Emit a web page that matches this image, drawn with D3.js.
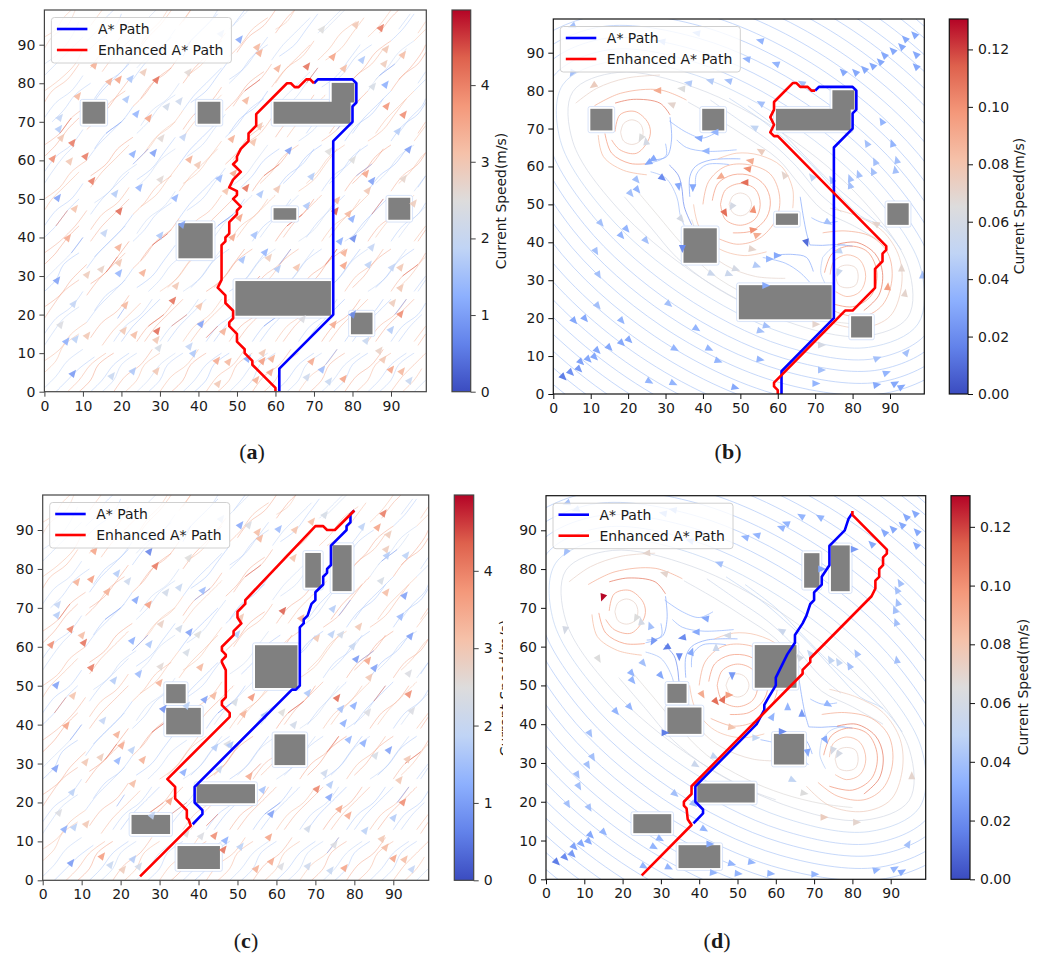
<!DOCTYPE html>
<html>
<head>
<meta charset="utf-8">
<script src="https://cdn.jsdelivr.net/npm/d3@7"></script>
<style>
  body { margin: 0; background: #fff; }
  text { font-family: "DejaVu Sans", sans-serif; fill: #1a1a1a; }
</style>
</head>
<body>
<script>
// tick labels
var axisTicks = [0, 10, 20, 30, 40, 50, 60, 70, 80, 90];
var flowBarTicks = [0, 1, 2, 3, 4];
var eddyBarTicks = [0, 0.02, 0.04, 0.06, 0.08, 0.10, 0.12];
var flowBarMax = 4.98;
var eddyBarMax = 0.1306;

// obstacles as x0, y0, x1, y1
var obstaclesTop = [[9.9, 69.5, 15.8, 75.2], [39.8, 69.5, 45.7, 75.2], [59.5, 69.5, 79.5, 75.2], [74.6, 75, 80.5, 80.1],
  [59.5, 44.6, 65.4, 47.6], [34.8, 34.6, 43.7, 43.7], [49.6, 19.7, 74.4, 28.7], [79.6, 14.9, 85.2, 20.5], [89.3, 44.6, 95, 50.3]];
var obstaclesBottom = [[67.4, 75.2, 71.4, 84.1], [74.4, 74.3, 79.3, 86.1], [54.5, 49.4, 65.4, 60.4], [31.7, 45.5, 36.7, 50.4],
  [31.7, 37.5, 40.6, 44.3], [59.5, 29.6, 67.4, 37.5], [39.5, 19.8, 54.5, 24.7], [22.8, 11.9, 32.7, 16.8], [34.6, 2.9, 45.5, 8.8]];

// planned paths
var blueTop = [[61,0],[61,6],[75,20],[75,65],[80,70],[80,74],[81,75],[81,80],[80,81],[71,81],[70,80]];
var redA = [[60,0],[60,1],[54,7],[54,8],[52,10],[52,11],[50,13],[50,15],[48,17],[48,18],[49,19],[49,21],[47,23],[47,25],[45,27],[46,29],[46,38],[47,39],[47,40],[48,41],[48,44],[50,46],[50,47],[51,48],[49,50],[50,51],[50,52],[48,53],[49,55],[51,57],[49,59],[50,60],[50,61],[51,63],[53,65],[53,67],[55,69],[55,72],[63,80],[64,80],[65,79],[66,79],[68,81],[69,81],[70,80]];
var redB = [[60,0],[60,1],[59,2],[59,3],[61,5],[78,22],[80,22],[86,28],[86,33],[88,35],[88,37],[89,38],[89,39],[60,68],[59,68],[58,69],[59,71],[58,73],[59,75],[59,77],[64,82],[65,82],[66,81],[68,81],[69,80],[70,80]];
var blueC = [[38.5,14.4],[41,17],[41,18],[39,20],[39,24],[64,49],[65,49],[66,50],[66,65],[67,66],[67,67],[68,68],[69,71],[70,72],[70,74],[72,76],[72,78],[73,79],[73,80],[74,81],[74,86],[78,90],[78,91],[79,92],[79,94],[80,95]];
var redC = [[25,1],[38,14],[37.5,15.5],[37,16],[37,18],[34,21],[34,24],[32,26],[48,42],[48,43],[46,45],[46,46],[47,47],[47,54],[46,56],[46,56.5],[47,57.5],[47,58],[46,59],[46,60],[49,63],[49,64],[51,66],[50,67.5],[50,69],[52,71],[52,72],[70,91],[72,91],[73,90],[75,90],[80,95]];
var blueD = [[38.5,14.4],[41,17],[41,18],[39,20],[39,24],[55,40],[57,43.7],[57,45],[58,46.7],[60,50],[60,52],[61,54],[62,56],[63,58],[65,61],[65,63],[67,66],[68,68],[69,71],[70,72],[70,74],[72,76],[72,78],[74,81],[74,86],[78,90],[79,93],[80,94.5]];
var redD = [[25,1],[38,14],[37,15.5],[36.7,18.3],[36,19],[36,20],[38,22],[38,24],[67,53],[67,54],[69,56],[69,57],[85,73],[86,75],[86,77],[87,78],[87,80],[88,81],[88,83],[89,84],[89,85],[80,94],[80,95]];

// streamlines of the uniform current: speed, then x,y pairs
var flowLines = [
  [3.2,0,92,3,94,5,97,7,99],[1.9,0,85,4,88,7,92,9,96],[3.3,0,78,4,81,8,85,10,89],[1.7,11,91,14,94,16,97,18,99],
  [1.8,0,71,3,75,7,78,10,82],[3.4,12,84,15,88,19,91,22,96],[3.5,0,64,4,67,7,71,11,74],[1.6,13,76,16,80,20,83,23,87],[3.2,25,90,27,93,30,96,32,99],
  [1.7,0,57,3,61,7,64,10,68],[3.6,12,70,16,73,19,77,22,81],[2.0,24,84,27,87,31,90,34,94],[3.3,36,96,38,99],
  [3.4,0,50,4,53,7,57,11,60],[1.5,13,63,16,67,20,70,23,74],[3.5,25,76,28,80,32,83,35,87],[1.8,37,90,40,93,43,96,45,99],
  [1.6,0,43,3,47,7,50,10,54],[3.7,12,56,16,59,19,63,23,66],[1.9,25,69,28,73,32,76,35,80],[3.3,37,82,41,85,44,89,47,93],[1.6,49,95,52,99],
  [3.5,0,36,4,39,8,43,11,47],[1.8,13,49,17,52,20,56,24,59],[3.2,26,62,29,66,33,69,36,73],[1.5,38,75,42,78,45,82,48,86],[3.6,50,88,53,92,57,95,60,99],
  [1.9,0,29,3,32,7,36,10,40],[3.4,12,42,15,46,19,49,22,53],[1.6,24,55,28,58,31,62,34,66],[3.6,36,68,39,72,43,75,46,79],[1.7,48,81,52,84,55,88,58,92],[3.1,60,94,63,96,65,99],
  [3.6,0,22,4,25,7,29,11,33],[1.5,13,35,16,38,20,42,23,46],[3.3,25,48,29,51,32,55,35,59],[1.8,37,61,41,64,44,68,47,72],[3.5,49,74,52,78,56,81,59,85],[1.6,61,87,65,90,68,94,71,98],
  [1.7,0,15,3,19,7,22,10,26],[3.8,12,28,16,31,19,35,22,39],[1.9,24,41,27,45,31,48,34,52],[3.2,36,54,40,57,43,61,46,65],[1.4,48,67,51,71,55,74,58,78],[3.4,60,80,63,84,67,87,70,91],[2,72,93,75,96,78,99],
  [3.3,0,8,4,11,7,15,11,18],[1.6,13,21,16,25,20,28,23,32],[3.7,25,34,28,38,32,41,35,45],[1.7,37,47,41,50,44,54,47,58],[3.4,49,60,52,64,56,67,59,71],[1.9,61,73,65,76,68,80,71,84],[3.3,73,86,77,89,80,93,83,97],
  [1.8,0,1,3,4,6,8,10,11],[3.5,12,14,15,18,19,21,22,25],[1.5,24,27,28,30,31,34,34,38],[3.4,36,40,39,44,43,47,46,51],[2,48,53,52,56,55,60,58,64],[3.6,60,66,63,70,67,73,70,77],[1.7,72,79,76,82,79,86,82,90],[3.2,84,92,87,95,90,99],
  [3.4,6,0,9,3,12,7,16,10],[1.7,18,13,21,17,25,20,28,24],[3.2,30,26,34,29,37,33,40,37],[1.4,42,39,45,43,49,46,52,50],[3.7,54,52,57,56,61,59,64,63],[1.8,66,65,70,68,73,72,76,76],[3.4,78,78,81,82,85,85,88,89],[1.6,90,91,93,94,96,98],
  [1.6,12,0,15,3,18,7,22,10],[3.6,24,13,27,17,31,20,34,24],[1.9,36,26,40,29,43,33,46,37],[3.3,48,39,51,43,55,46,58,50],[1.5,60,52,63,56,67,59,70,63],[3.5,72,65,76,68,79,72,82,76],[2,84,78,87,82,91,85,94,89],[3.1,96,91,99,94],
  [3.5,18,0,21,4,25,7,28,11],[1.8,30,13,33,17,37,20,40,24],[3.7,42,26,46,29,49,33,52,37],[1.6,54,39,57,43,61,46,64,50],[3.3,66,52,70,55,73,59,76,63],[1.5,78,65,81,69,85,72,88,76],[3.6,90,78,93,82,97,85,99,88],
  [1.9,24,0,27,3,30,7,34,10],[3.2,36,13,39,17,43,20,46,24],[1.5,48,26,52,29,55,33,58,37],[3.8,60,39,63,43,67,46,70,50],[1.7,72,52,75,56,79,59,82,63],[3.4,84,65,88,68,91,72,94,76],[1.8,96,78,99,81],
  [3.3,30,0,33,4,37,7,40,11],[1.6,42,13,45,17,49,20,52,24],[3.5,54,26,57,30,61,33,64,37],[2,66,39,70,42,73,46,76,50],[3.6,78,52,81,56,85,59,88,63],[1.5,90,65,93,69,97,72,99,75],
  [1.7,36,0,39,3,42,7,46,10],[3.6,48,13,51,17,55,20,58,24],[1.8,60,26,64,29,67,33,70,37],[3.3,72,39,75,43,79,46,82,50],[1.4,84,52,87,56,91,59,94,63],[3.2,96,65,99,69],
  [3.4,42,0,45,4,49,7,52,11],[1.5,54,13,57,17,61,20,64,24],[3.7,66,26,69,30,73,33,76,37],[1.7,78,39,82,42,85,46,88,50],[3.5,90,52,93,56,97,59,99,62],
  [1.8,48,0,51,3,54,7,58,10],[3.3,60,13,63,17,67,20,70,24],[1.4,72,26,76,29,79,33,82,37],[3.6,84,39,87,43,91,46,94,50],[1.9,96,52,99,56],
  [3.5,54,0,57,4,61,7,64,11],[1.7,66,13,69,17,73,20,76,24],[3.4,78,26,81,30,85,33,88,37],[1.6,90,39,93,43,97,46,99,49],
  [1.6,60,0,63,3,66,7,70,10],[3.7,72,13,75,17,79,20,82,24],[1.8,84,26,88,29,91,33,94,37],[3.3,96,39,99,43],
  [3.2,66,0,69,4,73,7,76,11],[1.5,78,13,81,17,85,20,88,24],[3.5,90,26,93,30,97,33,99,36],
  [1.8,72,0,75,3,78,7,82,10],[3.4,84,13,87,17,91,20,94,24],[1.7,96,26,99,30],
  [3.6,78,0,81,4,85,7,88,11],[1.6,90,13,93,17,97,20,99,23],[1.7,84,0,87,3,90,7,94,10],[3.3,96,13,99,17],[3.4,90,0,93,4,96,7,99,10],[1.9,96,0,99,3],
  // lines between those
  [3.0,0,89,2,92,6,95,8,99],[1.8,0,82,3,85,6,88,10,92],[3.2,12,95,15,99],[3.4,0,75,2,78,6,81,9,85],[1.6,11,88,14,91,18,94,20,98],
  [1.7,2,70,5,73,8,77,12,80],[3.4,15,83,18,87,21,90,25,94],[2,27,97,29,99],[3.6,0,61,3,64,6,68,9,71],[1.5,12,74,15,78,18,81,22,85],[3.3,24,88,27,92,30,95,33,99],
  [1.8,0,54,2,57,5,61,8,64],[3.5,11,68,14,71,17,75,21,78],[1.6,23,81,26,85,29,88,33,92],[3.2,35,95,38,99],
  [3.3,0,47,2,50,5,53,9,57],[1.7,11,60,14,64,17,67,21,71],[3.6,23,74,26,77,29,81,33,84],[1.5,35,87,38,91,41,94,45,98],
  [1.6,0,40,3,43,6,47,9,50],[3.4,12,53,15,57,18,60,22,64],[1.8,24,67,27,70,30,74,34,77],[3.7,36,80,39,84,42,87,46,91],[1.9,48,94,51,97,53,99],
  [3.7,0,33,3,36,6,40,9,43],[1.7,12,46,15,50,18,53,22,57],[3.1,24,60,27,63,30,67,34,70],[1.6,36,73,39,77,42,80,46,84],[3.4,48,87,51,90,54,94,58,97],
  [1.5,0,26,3,29,5,33,9,36],[3.5,12,39,15,43,18,46,22,50],[1.9,24,53,27,56,30,60,34,63],[3.2,36,66,39,70,42,73,46,77],[1.7,48,80,51,83,54,87,58,90],[3.6,60,93,63,97,65,99],
  [3.5,0,19,2,22,5,26,9,29],[1.6,11,32,14,36,17,39,21,43],[3.4,23,46,26,49,29,53,33,56],[1.4,35,59,38,63,41,66,45,70],[3.6,47,73,50,76,53,80,57,83],[1.8,59,86,62,90,65,93,69,97],
  [1.8,0,12,2,15,5,19,9,22],[3.6,11,25,14,29,17,32,21,36],[1.7,23,39,26,42,29,46,33,49],[3.3,35,52,38,56,41,59,45,63],[1.6,47,66,50,69,53,73,57,76],[3.4,59,79,62,83,65,86,69,90],[1.9,71,93,74,96,77,99],
  [3.2,0,5,3,8,5,12,9,15],[1.7,11,18,14,22,17,25,21,29],[3.5,23,32,26,35,29,39,33,42],[1.5,35,45,38,49,41,52,45,56],[3.7,47,59,50,62,53,66,57,69],[1.9,59,72,62,76,65,79,69,83],[3.3,71,86,74,89,77,93,81,96],
  [1.6,3,0,6,3,9,6,13,9],[3.4,15,12,18,16,21,19,25,23],[1.8,27,26,30,29,33,33,37,36],[3.6,39,39,42,43,45,46,49,50],[1.5,51,53,54,56,57,60,61,63],[3.3,63,66,66,70,69,73,73,77],[1.7,75,80,78,83,81,87,85,90],[3.5,87,93,90,97,92,99],
  [3.7,9,0,12,3,14,7,18,10],[1.5,20,13,23,17,26,20,30,24],[3.3,32,27,35,30,38,34,42,37],[1.9,44,40,47,44,50,47,54,51],[3.4,56,54,59,57,62,61,66,64],[1.6,68,67,71,71,74,74,78,78],[3.6,80,81,83,84,86,88,90,91],[1.8,92,94,95,98],
  [1.8,15,0,18,3,20,7,24,10],[3.5,26,13,29,17,32,20,36,24],[1.6,38,27,41,30,44,34,48,37],[3.3,50,40,53,44,56,47,60,51],[1.4,62,54,65,57,68,61,72,64],[3.7,74,67,77,71,80,74,84,78],[1.9,86,81,89,84,92,88,96,91],[3.2,97,93,99,96],
  [3.3,21,0,24,3,26,7,30,10],[1.6,32,13,35,17,38,20,42,24],[3.6,44,27,47,30,50,34,54,37],[1.8,56,40,59,44,62,47,66,51],[3.2,68,54,71,57,74,61,78,64],[1.5,80,67,83,71,86,74,90,78],[3.6,92,81,95,84,98,88,99,90],
  [1.7,27,0,30,3,32,7,36,10],[3.4,38,13,41,17,44,20,48,24],[1.9,50,27,53,30,56,34,60,37],[3.5,62,40,65,44,68,47,72,51],[1.6,74,54,77,57,80,61,84,64],[3.3,86,67,89,71,92,74,96,78],[1.8,97,80,99,83],
  [3.6,33,0,36,3,38,7,42,10],[1.5,44,13,47,17,50,20,54,24],[3.4,56,27,59,30,62,34,66,37],[1.7,68,40,71,44,74,47,78,51],[3.7,80,54,83,57,86,61,90,64],[1.6,92,67,95,71,98,74,99,76],
  [1.5,39,0,42,3,44,7,48,10],[3.5,50,13,53,17,56,20,60,24],[1.7,62,27,65,30,68,34,72,37],[3.3,74,40,77,44,80,47,84,51],[1.8,86,54,89,57,92,61,96,64],[3.4,97,67,99,70],
  [3.4,45,0,48,3,50,7,54,10],[1.6,56,13,59,17,62,20,66,24],[3.8,68,27,71,30,74,34,78,37],[1.5,80,40,83,44,86,47,90,51],[3.3,92,54,95,57,98,61,99,62],
  [1.7,51,0,54,3,56,7,60,10],[3.5,62,13,65,17,68,20,72,24],[1.8,74,27,77,30,80,34,84,37],[3.2,86,40,89,44,92,47,96,51],[1.6,97,53,99,56],
  [3.3,57,0,60,3,62,7,66,10],[1.4,68,13,71,17,74,20,78,24],[3.6,80,27,83,30,86,34,90,37],[1.9,92,40,95,44,98,47,99,48],
  [1.8,63,0,66,3,68,7,72,10],[3.4,74,13,77,17,80,20,84,24],[1.5,86,27,89,30,92,34,96,37],[3.5,97,39,99,42],
  [3.5,69,0,72,3,74,7,78,10],[1.6,80,13,83,17,86,20,90,24],[3.3,92,27,95,30,98,34,99,35],[1.6,75,0,78,3,80,7,84,10],[3.6,86,13,89,17,92,20,96,24],[1.8,97,26,99,29],
  [3.4,81,0,84,3,86,7,90,10],[1.7,92,13,95,17,98,20],[1.7,87,0,90,3,92,7,96,10],[3.4,97,12,99,15],[3.3,93,0,96,3,98,6],
  // short faster and slower stretches
  [4.4,16,31,19,35],[.9,7,36,10,40],[4.5,28,38,32,41],[.8,45,43,49,46],[4.3,57,56,61,59],[.9,16,67,20,70],[4.4,4,67,7,71],[.8,39,72,43,75],[4.5,63,43,67,46],[.9,81,56,85,59],
  [4.3,27,17,31,20],[.8,57,17,61,20],[4.4,73,33,76,37],[.9,87,82,91,85],[4.5,52,78,56,81],[.8,27,87,31,90],[4.3,33,17,37,20],[.9,61,33,64,37],[4.4,85,46,88,50],[.8,91,20,94,24],
  [4.4,68,80,71,84],[.9,19,19,21,22],[4.3,3,43,6,47],[.8,23,59,27,63],[4.5,42,14,45,17],[.9,73,7,76,11],[4.3,53,27,56,30],[.8,76,68,79,72],[4.4,93,30,97,33],[.9,36,87,38,91]
];

// streamlines of the three eddies: speed, then x,y pairs (outer loops first)
var eddyLoops = [
  [.06,94.8,20.3,94.9,33.4,82.9,50.9,62.1,68.3,38.1,80.7,17.3,84.8,5.2,79.7,5.2,66.6,17.1,49.1,37.9,31.7,61.9,19.3,82.8,15.2],
  [.05,97.5,18.5,98.2,33.2,85.8,52.4,63.9,71,38.3,84,15.8,87.7,2.5,81.5,1.9,66.8,14.2,47.6,36.1,29,61.7,16,84.3,12.3],
  [.046,100.3,16.7,101.5,33,88.8,53.8,65.7,73.8,38.5,87.3,14.4,90.7,-.3,83.3,-1.4,67,11.2,46.2,34.3,26.2,61.5,12.7,85.7,9.3],
  [.044,103,14.8,104.7,32.8,91.7,55.3,67.6,76.5,38.7,90.5,12.9,93.6,-3,85.2,-4.6,67.2,8.3,44.7,32.4,23.5,61.3,9.5,87.2,6.4],
  [.044,105.8,13,108,32.6,94.7,56.8,69.4,79.3,38.9,93.8,11.4,96.6,-5.8,87,-7.9,67.4,5.3,43.2,30.6,20.7,61.1,6.2,88.7,3.4],
  [.044,108.5,11.2,111.3,32.4,97.6,58.2,71.2,82,39.1,97.1,10,99.5,-8.5,88.8,-11.2,67.6,2.4,41.8,28.8,18,60.9,2.9,90.2,.5],
  [.044,111.2,9.4,114.6,32.2,100.5,59.7,73,84.7,39.3,100.4,8.5,102.4,-11.2,90.6,-14.5,67.8,-.5,40.3,27,15.3,60.7,-.4,91.6,-2.4],
  [.044,114,7.6,117.9,32,103.5,61.2,74.8,87.5,39.5,103.7,7,105.4,-14,92.4,-17.8,68,-3.5,38.8,25.2,12.5,60.5,-3.7,93.1,-5.4]
];
var eddyArcs = [
  [.044,121.1,31.8,106.4,62.7,76.7,90.2,39.7,106.9,5.5,108.3],[.044,124.4,31.6,109.4,64.1,78.5,93,39.9,110.2,4,111.2],
  [.044,127.7,31.4,112.3,65.6,80.3,95.7,40.1,113.5,2.6,114],[.044,131,31.2,115.2,67.1,82.1,98.4,40.3,116.8,1.1,117],
  [.044,134.3,31,118.2,68.5,83.9,101.2,40.5,120],[.044,137.5,30.8,121.1,70,85.8,103.9,40.7,123],
  [.044,140.8,30.6,124,71.5,87.6,106.7],[.044,144,30.4,127,72.9,89.4,109.4],
  [.044,-21,68.2,-6.4,37.3,23.3,9.8,60.3,-6.9,94.6,-8.3],[.044,-24.3,68.4,-9.4,35.9,21.5,7,60.1,-10.2,96,-11.3],
  [.044,-27.6,68.6,-12.3,34.4,19.7,4.3,59.9,-13.5,97.5,-14.2],[.044,-30.9,68.8,-15.2,32.9,17.9,1.6,59.7,-16.8,99,-17],
  [.044,-34.2,69,-18.2,31.5,16.1,-1.2,59.5,-20,100,-20],[.044,-37.4,69.2,-21.1,30,14.2,-3.9,59,-23,100,-23],
  [.044,-40.7,69.4,-24,28.5,12.4,-6.7,59,-26],[.044,-44,69.6,-27,27,10.6,-9.5,59,-29],
  // between the loops and the eddies
  [.066,22,54,28,47,34,40,42,32,52,26,62,22,72,19.5,80,18.5],
  [.06,19,52,26,44,33,36,42,29,52,23.5,60,20.5],
  [.06,36,77,44,72.5,52,67.5,60,62,66,55,72,48.5,80,44.5,88,40],
  [.055,42,77.5,50,72,58,66.5,65,60,71,53,77,48],
  [.05,47,78,56,72,62,67,69,60.5,76,53,82,47,88,44,93,38],
  [.05,52,76,60,70,67,63,74,56,81,50,88,44],
  // first eddy
  [.072,18,69,18.8,71.3,21,72.3,23.2,71.3,24,69,23.2,66.7,21,65.8,18.8,66.7,18,69],
  [.095,16.5,69.2,17.8,73.6,21.8,74.5,25.4,71.4,25.8,67.9,22.3,63.5,17.8,64.4,15.6,67],
  [.108,16.5,76.7,21.4,77.7,28.5,76.7,31.2,73.6],[.09,11,76,18,79.3,28.5,80.2,35.6,77.5],[.072,6,76.7,11.6,80.6,19.6,83.3,28.5,84.1],
  [.098,13.8,68.7,15.6,63.5,20.5,60.8,25.8,60.8],[.085,12,68.3,13.4,62.6,18.7,59,25,57.8],
  // saddle between first and second eddy
  [.035,31,72,35.6,69,40,67.5,43.6,69],[.035,33,67,35.6,65,41,64,49,64.4],[.03,31.2,73,31.6,67,30.3,62.6,26.3,61.7],[.035,30,66,30.2,63,28.5,61.7,26,61],
  [.02,31,60.4,33.4,57.7,34.3,54.7,35,49.4,37,44.6],[.04,26,58.6,30,57,33,52,34,46.8,35,44.5],[.03,36.5,52,36.5,57.3,38,60,42,61.7,50,62],[.035,38,54.7,38.3,58,41,60.5,47,60.5],
  // second eddy
  [.072,47,50,48,52.2,50,53,52,52.2,53,50,52,47.8,50,47,48,47.8,47,50],
  [.096,44.7,50,46,53.8,50,55.5,54,54,55.3,50,54,46.2,50,44.5,46,46,44.7,50],
  [.098,42.5,51,44,55.5,48,57.8,53,57.5,56.5,55,58,51,57,46.5,53,43,48,42.5],
  [.09,40,50,41.5,56,46,60,52,60.5,58,58,60.5,52,59.5,46,55,41,49,39.5,43,41.5],
  [.082,37.5,50,39,44,44,38.5,51,36.5,57,37.5],[.082,44,62,49,63.5,55,63,61,60,64,54,64,49],
  [.07,37,46,40,39,46,34,54,31,62,30.5],
  // saddle between second and third eddy
  [.03,66,52,66.8,47,67.7,42.4,68.6,39.3],[.03,68.6,39.3,72,39.2,75.7,39.4,80,39],[.03,59.7,36.7,64,36.8,67.7,36,69.5,32.3],[.035,56,36,62,34.5,66,32,68.5,29.5],[.035,69,46.5,72,45.2,76,45.5],
  // third eddy
  [.072,75.5,31,76.3,33.3,78.5,34,80.8,33.3,81.5,31,80.8,28.7,78.5,28,76.3,28.7,75.5,31],
  [.088,74,31.5,75,35,78.5,36.7,82,35.3,83.5,31,82,27,78.5,25.7,75.5,27],
  [.1,72.5,32,74.5,37,79,39,84,37.5,86.5,32,85,26,80,23,74,24],
  [.108,76,39.5,81,40,86,37,88,32,87,26,83,22],
  [.09,71,25,76,21.5,83,20.5,88,23.5,90.5,30,89.5,37,85,41.5,78,43,72,42.5],
  [.076,68,24,74,19,83,17.5,90,20.5,93,28,92.5,36,88,43,81,47,74,49],
  [.045,72,36,71.5,32,73,28.5],[.045,72,36,74.5,38.5,78,39.5]
];

// arrowheads of the uniform current: x, y, speed
var flowAngle = 52;
var arrowsA = [[87.5,94.5,4.1],[81,95.3,3],[72.2,94.1,2.5],[50.8,91.5,1.1],[46,93,1.9],[55.4,89.5,3.3],[56,88,3.4],[88.8,89,3],[93.2,87.5,3.2],[75,87,3.6],[82.6,86.2,1.6],[68.3,84.5,4.2],[60.7,84,3.4],[77.9,84,3.2],[88.4,85.2,2.9],[13.1,84.8,3.4],[25.9,83,2.9],[37.5,83,2.6],[17,80.6,3.4],[19.4,81.1,3.6],[22.5,81.3,1.6],[29.2,81,4.2],[88.7,79.8,1.2],[85.4,79.3,2.3],[8.8,76.8,3.3],[21.4,76,1.6],[35.2,75.5,2.1],[52.5,75.7,3.3],[31.9,74.1,2.2],[89,74.2,3.8],[93.4,72,3.9],[24,72.2,1.3],[4.1,71.2,1.9],[3.9,68.3,1.7],[27.2,71.1,3.6],[56,69,3],[91.9,67.7,1.7],[4.5,66,3],[7.4,64.7,4.1],[30.5,65.9,2.6],[36.2,66.2,1.9],[48.8,65.7,3.4],[54.4,64.9,3.1],[74,62.5,2.5],[63.6,62.7,1],[94.7,63,1],[23.1,61.8,1.2],[28.5,62.1,1],[2.3,60.6,3.9],[10.8,61.2,4.1],[6.7,59.9,3],[37.8,60.4,3.4],[40,59,3],[80.2,60.3,2.5],[12.5,54.8,4.1],[30.3,55.2,2.6],[45.6,55.5,1.4],[49.3,56.8,3.5],[69.5,56,1.7],[83.6,56.7,3.6],[85.2,54.8,1],[93.4,55.4,2.7],[24.8,53.1,1.3],[18.5,51.5,1.7],[47.3,52.2,3.1],[52.5,53,4.2],[56.2,51.4,1.6],[60.6,52.7,3],[84.1,52.3,3],[3.6,50.4,1],[34.1,50.4,1.3],[76.1,49.8,3.3],[96,49,2.9],[8,47.6,3.1],[19.6,47,4.3],[68.3,48.4,1.6],[75.7,47,4.4],[79.1,46.3,3.3],[80,45,1.2],[50.8,45.3,3.6],[35.9,43.5,1.1],[15.7,41.3,1.9],[30.2,40.7,1.6],[6.2,40,3.5],[49,40.2,3.5],[54.7,40.8,1.5],[76.9,39.2,1.2],[80.4,39.9,.7],[19.4,37.6,3.4],[85.1,37.6,1.9],[57.4,36.3,1.3],[78,36.2,3.4],[51.5,34.4,1.5],[58.4,34.9,2.9],[19.5,33.6,3],[77.9,32.9,3.6],[84.3,33.1,1.8],[14.9,31.9,2.8],[19.5,30.9,1.3],[60.7,32,1.7],[65.7,32.4,3.1],[90.4,32.4,1.9],[92.6,32.4,3],[11.2,30.5,2.9],[25.7,31,3.4],[3.4,29,1],[34.3,27.6,3],[92.6,27.1,3],[7.7,22.9,1.9],[33.5,23.8,4.2],[21.1,22.6,3.3],[40.4,22.3,3.1],[90.6,23.2,2.9],[92.6,20.3,3.9],[80.2,20.2,.8],[67.2,19,2.4],[4.3,17.5,2.4],[40.8,17.7,1],[75.2,17.6,3.5],[46.6,15.8,3.4],[20.7,16,3],[29.4,15.9,4.3],[23.5,14.9,3.2],[90.1,16.2,1.7],[11.2,14.7,3],[5.8,13.2,1.2],[8.2,13.8,1.8],[29.2,13.6,3],[83.7,13.4,2],[37.8,11.9,1.9],[29.8,11.5,2.3],[38.8,10.1,1.6],[87.1,10.8,2.8],[56.8,10.2,3],[44.9,8.2,3.5],[47.9,7.9,3.3],[52.9,8.7,1.2],[56.7,8.1,3.7],[59.2,8.7,3.4],[69.5,8,3.5],[88.1,8.5,3],[7.5,4.8,.9],[23.1,5.5,1.6],[29.2,5.5,3],[58.8,5.2,3.5],[72.2,5.9,1.4],[90.1,5.9,3.6],[92.9,5.4,3.3],[17.6,4.2,2],[68.3,3.9,2.1],[55.1,3.2,3.4],[45.2,2.2,3],[74,2.8,2],[77.8,3.5,3.6],[94.9,3,2]];
var arrowsC = [[87.6,94.4,4.1],[72.5,94,2.3],[50.8,91.4,1.1],[53,91.4,2.4],[45.9,93,1.9],[55.3,89.6,3.2],[55.9,88,3.3],[60.7,90.4,1.4],[64.9,90.2,3.1],[69.2,92.3,3.2],[86.1,90.8,3.6],[82.1,91,1.8],[88.9,89,2.9],[27.5,84.6,.6],[13.4,84.8,3.6],[37.6,83,2.5],[88.3,85.2,2.9],[88.5,83.6,1.7],[93.4,83.6,1.8],[64.5,83,3.1],[29.1,80.9,4.1],[12.6,77.5,3.7],[8.9,76.8,3.4],[19.2,79,1.7],[22,77,2.1],[87,77.1,2.3],[16.7,74.3,3.4],[35.2,75.4,2],[31.8,74.1,2.2],[41.2,74.6,1.4],[88.3,74.1,3.2],[93,73.3,1],[4,71,1.9],[3.8,68.3,1.7],[24,72.2,1.1],[27.3,71,3.7],[61.8,69.4,4.4],[51,67.7,3],[66.5,67.5,3.4],[74.6,69.9,1.7],[92,67.9,1.4],[7.3,64.7,4],[10.2,63.1,3.2],[10.7,61.2,4.2],[2.3,60.7,3.9],[30.5,66,2.8],[35.2,64.8,2.2],[37.8,63.9,1],[40,63.3,2.5],[23.1,61.7,1.2],[27.5,60.8,1.6],[81.3,65.3,3],[50,63.4,1.7],[70.5,62.4,3],[74.3,63.4,1.8],[76.7,63.3,2.2],[94.5,62.9,1],[79.7,60.3,2],[37.1,58.7,2.3],[80.6,57,.9],[83.6,56.6,3.6],[12.6,54.8,4.1],[30.4,55.1,2.6],[40.6,54.9,3.3],[85.3,54.7,1],[24.8,53.2,1.4],[18.4,51.5,1.7],[30.1,50.9,3.4],[3.6,50.3,1],[84,52.3,3],[94.1,53.3,2.4],[7.9,47.6,3.1],[41.7,46.6,1],[44,47.6,3.3],[49.5,45.9,2.3],[53.8,47.2,3.8],[68.2,48.3,1.6],[75.7,47,4.3],[94.1,48,3.9],[76.7,44.2,1.5],[80,45,1.2],[37.1,45,1.8],[31.1,44.2,.8],[83.6,43.3,2.4],[94.9,43.7,2.4],[15.6,41.2,1.9],[51.7,42.9,3.4],[61.6,43.3,2.5],[57.1,42.6,1.6],[6.2,39.9,3.6],[64.6,40.1,2.2],[77.4,40.5,1.2],[19.2,37.6,3.4],[20.4,34.8,3.5],[78.7,36.3,1.3],[47.6,35.2,2.4],[48.3,34.9,1.6],[44.4,34.3,1.7],[23,33.6,1.8],[82.5,35.4,1.2],[89,33.6,1],[85.5,32.2,2.3],[15,31.8,2.9],[19.4,30.9,1.3],[25.8,31.1,3.4],[11.1,30.5,3],[93.8,31.3,3],[3.4,28.9,1],[45.5,28.7,2],[36.3,27.9,1.2],[72.5,27.7,2.1],[53.2,26.9,3.5],[91.7,25.9,3],[23.3,25,3.2],[73.9,24.7,1.7],[70.5,23.6,4],[56.6,23.4,1.5],[7.7,22.8,1.8],[73.7,21.5,1.1],[32.7,20.5,3.6],[92.6,20.2,3.9],[4.3,17.5,2.4],[76.3,18.5,3.6],[78.6,16.8,3.5],[58.8,17.2,1],[28.2,16.8,1.9],[90.2,16.2,1.7],[11.3,14.6,3],[5.7,13.3,1.2],[8.2,13.8,1.8],[68.2,13.4,2.2],[82.9,12.9,1.8],[44.2,11.6,3.9],[40.8,11.5,2.4],[37,12.1,2.5],[58.2,11.2,3.6],[87.2,10.8,3],[47,10.4,1.2],[75,9.3,2.4],[88.1,8.6,3.2],[50.9,8.8,1.8],[46.5,8,4.2],[7.4,4.6,.9],[15.3,6.3,3.7],[23.3,5.6,1.7],[90.2,5.8,3.6],[93,5.5,3.2],[17.5,4.1,2],[58.8,5,3.5],[20.7,2.9,2.9],[24.8,3.7,2.2],[61.3,3.7,2.4],[68.2,3.8,2.1],[54.9,3.1,3.4],[74,2.7,2],[77.6,3.3,3.6],[94.9,3,1.9]];

// arrowheads of the eddies: x, y, speed, direction in degrees
var arrowsB = [[5,84.6,.04,240],[10.7,81.3,.075,215],[27.9,80,.09,180],[34.3,80.5,.065,175],[36.1,82,.045,170],[41.9,82.6,.045,165],[46.8,82.6,.04,165],[55.3,93.2,.035,165],[51.7,88.3,.035,170],[59.5,87.1,.035,160],[31.6,76.4,.07,160],[66.4,82,.04,150],[55.4,76.7,.04,150],[53.7,70.3,.05,155],[43.2,69,.035,180],[38.9,67.5,.03,170],[40.8,64.1,.035,180],[23.4,67.5,.065,240],[24.8,66.6,.06,100],[25.4,61,.03,210],[26.5,61.9,.03,210],[29.2,56.9,.02,-40],[33.5,54.7,.03,-80],[37.3,54.4,.03,-90],[22.3,56.4,.04,-50],[22.5,53.8,.035,-50],[20.7,52.8,.04,-50],[12.7,45,.04,-50],[19.6,43.4,.035,-50],[18.2,41.7,.035,-50],[24.8,40.4,.04,-50],[11.4,37.6,.04,-60],[12.1,31.4,.04,-60],[11.9,23.2,.04,-50],[18.3,19.3,.035,-50],[8.5,19.8,.03,-50],[5.6,19.3,.03,-50],[20.3,14.2,.03,-45],[18.3,13.4,.03,-45],[15,12.2,.03,-45],[11.8,11.4,.03,-45],[11.1,9.7,.03,-45],[9.4,9.1,.03,-45],[7.4,8.4,.028,-45],[6.9,6.5,.025,-45],[4.7,5.6,.022,-45],[2.7,4.4,.015,-45],[25.7,3.3,.035,-30],[32.1,2.8,.035,-25],[30.9,23.7,.04,-40],[38.3,17.2,.035,-35],[32.5,11.9,.035,-30],[41.7,11.9,.035,-25],[44.1,8.7,.035,-20],[48.6,1.7,.03,-15],[55.3,9.1,.035,-10],[55.4,16.6,.04,-15],[57,17.9,.04,-15],[70.2,18.4,.07,0],[71.7,12.9,.06,0],[71.7,6.3,.04,0],[70.2,2.8,.035,0],[86.6,9.4,.04,20],[89.1,5.6,.035,20],[91.4,2.8,.03,30],[86.5,2.4,.03,10],[93.1,1.9,.03,30],[94.5,11,.04,50],[98.7,31.4,.04,90],[93.1,33.2,.07,90],[94,26.6,.07,80],[89.4,28.3,.095,85],[76.2,37.6,.05,200],[76.2,32,.055,250],[73.5,45.2,.04,-30],[86.2,44.9,.07,150],[67.7,39.9,.01,-70],[59.9,36.5,.03,0],[57.8,35.6,.035,0],[53.2,38.2,.07,-10],[54.4,33.8,.045,-20],[48.8,32.9,.06,-20],[47,31.6,.055,-20],[42.3,31.7,.055,-25],[56.8,28.6,.03,0],[34.5,38.4,.02,-90],[34.2,46.1,.06,-50],[51.2,55.8,.11,180],[51.9,59.4,.1,170],[52.6,61.5,.09,170],[44.6,57.2,.09,210],[61.7,57.8,.07,125],[55.4,64.1,.075,150],[47.7,49.4,.06,240],[45.9,47.7,.11,-60],[53.5,48.7,.1,80],[53.5,43.3,.1,10],[54.6,42,.09,20],[74.4,56.5,.04,120],[69.1,57.3,.05,130],[79.3,56.9,.04,110],[79.3,55.1,.04,110],[81.6,58,.04,110],[85.4,58.7,.04,115],[86,61.3,.04,115],[91.4,59.1,.04,100],[91.8,61.7,.04,105],[83.8,66.1,.04,120],[87.8,71.9,.035,120],[90.6,66.1,.035,110],[77.4,85,.03,135],[80.7,84.9,.03,135],[83.1,85.7,.03,135],[85.3,86.6,.03,135],[87.3,87.7,.03,135],[88.4,89.4,.03,135],[90.7,90.6,.03,135],[93,91.7,.03,135],[94,93.7,.03,135],[96.5,94.8,.03,135],[96.9,89.6,.03,135],[96.9,86.4,.03,135],[38.3,95.2,.04,170],[29,93,.04,170],[5,97,.04,200]];
var arrowsD = [[5.4,97,.04,200],[7.8,95.3,.04,200],[30.6,94.4,.04,170],[33.2,95.3,.04,170],[37.6,87.3,.04,165],[5.2,84.3,.04,240],[26.3,84.1,.07,185],[30.9,78.9,.07,165],[45.2,81.5,.04,160],[52,88.2,.035,165],[55,88.8,.035,165],[61.4,90.7,.035,160],[62.7,91.8,.035,160],[66.6,93.7,.035,150],[71.5,93.4,.035,150],[14.8,72.7,.13,-110],[23.5,67.3,.065,240],[24.8,66.5,.06,100],[27.2,65.4,.04,110],[5,64.3,.06,-100],[13.7,56.8,.065,-60],[41.6,67.3,.03,170],[39.2,63.8,.03,180],[35.6,62.3,.02,190],[27.9,61.3,.025,-120],[31.5,59.8,.015,210],[34.8,57.4,.02,-90],[38,58.7,.03,70],[44.4,59.8,.055,90],[47.4,62.9,.06,180],[61.5,64.1,.055,150],[25.4,55.7,.04,-50],[30,52.5,.03,-50],[22.4,53.1,.035,-50],[22.6,51.2,.035,-50],[21.9,44.4,.035,-50],[18.3,43.2,.035,-50],[11.5,37.5,.04,-60],[12.2,31.4,.04,-60],[10.9,29.4,.04,-60],[8.2,26.9,.04,-60],[8.6,23.9,.04,-60],[5.7,19.3,.04,-60],[11.3,18.4,.04,-60],[15.1,12.1,.035,-45],[11.7,11.3,.03,-45],[11.2,9.7,.03,-45],[9.3,9.1,.03,-45],[7.4,8.3,.028,-45],[6.9,6.4,.025,-45],[5,5.6,.02,-45],[2.8,4.4,.015,-45],[48.6,52.5,.025,-90],[40.8,47.6,.09,-60],[44.4,45.8,.11,-50],[46.3,46.5,.11,60],[47.8,47.5,.095,0],[48.5,39.2,.08,-10],[54.8,36.5,.05,0],[59.1,42,.035,60],[63.1,44.5,.035,90],[66.8,42.8,.025,90],[73.7,45.1,.035,-30],[61.7,38.1,.02,0],[73,35.9,.03,-60],[68.3,32.7,.03,-80],[74.8,33.2,.06,-110],[76.3,32.2,.06,-120],[31.1,37.8,.015,0],[44,31.6,.05,-25],[39.1,29.5,.055,-30],[64.4,25.6,.05,-25],[67.4,22.2,.065,-10],[72.6,16,.075,0],[81.1,14.7,.07,0],[33.7,22,.04,-40],[38.6,19.4,.04,-40],[41.3,12.9,.035,-30],[29.8,10.4,.035,-30],[28.2,8.3,.035,-30],[25.6,3.3,.035,-30],[32.1,3,.035,-25],[42.8,9.1,.03,0],[48.5,4,.035,-15],[53.7,4.4,.035,-10],[43.7,1.7,.035,-5],[50.2,1.5,.035,-5],[58.7,1.5,.035,-5],[70.2,1.3,.035,0],[86.3,2.4,.035,15],[91.1,2.8,.035,30],[93,2,.03,30],[94.6,9.1,.04,60],[95.5,26.7,.07,90],[80.5,85.1,.025,0],[72,80,.03,0],[85,86.5,.03,135],[88.3,89.5,.03,135],[90.5,90.4,.03,135],[92.9,91.4,.03,135],[94,93.5,.03,135],[96.3,94.4,.03,135],[96.8,89.7,.03,135],[96.6,86.2,.03,135],[92.4,76.5,.04,120],[91.6,74.6,.04,120],[91.8,71.4,.04,110],[91.1,69.5,.04,110],[91.4,66.3,.04,110],[81.1,58.3,.04,120],[91.6,56.6,.04,100],[79.2,55.1,.04,120],[76.3,56.1,.05,120],[74.2,56.7,.05,120],[68.9,58.3,.05,130],[66.1,57.3,.06,130]];

// layout of the four panels in pixels
var panels = [
  {id: "a", x0: 44.4, x90: 391, right: 426.3, y0: 391.7, y90: 44.7, top: 10, barX: 452, barW: 18.7, barMax: flowBarMax, barTicks: flowBarTicks, fmt: d3.format("d"),
   lines: flowLines, closed: [], obstacles: obstaclesTop, blue: blueTop, red: redA, arrows: arrowsA, labelX: 501, labelY: 201, capX: 252, capY: 459, edge: "#444", lineAlpha: 0.6, headAlpha: 0.85},
  {id: "b", x0: 553.3, x90: 890, right: 924.3, y0: 394, y90: 52.7, top: 19, barX: 949.3, barW: 18.7, barMax: eddyBarMax, barTicks: eddyBarTicks, fmt: d3.format(".2f"),
   lines: eddyArcs, closed: eddyLoops, obstacles: obstaclesTop, blue: blueTop, red: redB, arrows: arrowsB, labelX: 1019, labelY: 206, capX: 728, capY: 459, edge: "#111", lineAlpha: 0.85, headAlpha: 1},
  {id: "c", x0: 42.7, x90: 393.3, right: 428.7, y0: 880.3, y90: 530, top: 495, barX: 454.3, barW: 19.4, barMax: flowBarMax, barTicks: flowBarTicks, fmt: d3.format("d"),
   lines: flowLines, closed: [], obstacles: obstaclesBottom, blue: blueC, red: redC, arrows: arrowsC, labelX: 505, labelY: 688, capX: 246, capY: 948, edge: "#444", lineAlpha: 0.6, headAlpha: 0.85, cutLabel: true},
  {id: "d", x0: 546, x90: 890.7, right: 925.7, y0: 879.3, y90: 530.3, top: 495.7, barX: 951, barW: 19, barMax: eddyBarMax, barTicks: eddyBarTicks, fmt: d3.format(".2f"),
   lines: eddyArcs, closed: eddyLoops, obstacles: obstaclesBottom, blue: blueD, red: redD, arrows: arrowsD, labelX: 1023, labelY: 687, capX: 717, capY: 948, edge: "#111", lineAlpha: 0.85, headAlpha: 1}
];

// coolwarm colormap anchors
var coolwarm = d3.scaleLinear()
  .domain([0, .125, .25, .375, .5, .625, .75, .875, 1])
  .range(["#3b4cc0", "#6282ea", "#8db0fe", "#c0d4f5", "#dddcdc", "#f5c1a9", "#f4987a", "#de614d", "#b40426"]);

var svg = d3.select("body").append("svg")
  .attr("width", 1048)
  .attr("height", 956)
  .style("display", "block");

var defs = svg.append("defs");
var grad = defs.append("linearGradient")
  .attr("id", "coolwarmBar")
  .attr("x1", 0).attr("x2", 0).attr("y1", 1).attr("y2", 0);
coolwarm.domain().forEach(function(d) {
  grad.append("stop").attr("offset", d).attr("stop-color", coolwarm(d));
});

// turn speed,x,y,x,y... into points
function toPoints(row) {
  var pts = [];
  for (var i = 1; i < row.length; i += 2) {
    pts.push([row[i], row[i + 1]]);
  }
  return pts;
}

panels.forEach(function(p) {
  var unitX = (p.x90 - p.x0) / 90;
  var unitY = (p.y0 - p.y90) / 90;
  var xMax = (p.right - p.x0) / unitX;
  var yMax = (p.y0 - p.top) / unitY;

  var xScale = d3.scaleLinear().domain([0, xMax]).range([p.x0, p.right]);
  var yScale = d3.scaleLinear().domain([0, yMax]).range([p.y0, p.top]);
  var speedColor = function(s) { return coolwarm(s / p.barMax); };

  defs.append("clipPath").attr("id", "clip-" + p.id)
    .append("rect")
    .attr("x", p.x0).attr("y", p.top)
    .attr("width", p.right - p.x0).attr("height", p.y0 - p.top);

  var g = svg.append("g").attr("clip-path", "url(#clip-" + p.id + ")");

  var open = d3.line().x(function(d) { return xScale(d[0]); }).y(function(d) { return yScale(d[1]); }).curve(d3.curveCatmullRom);
  var closed = d3.line().x(function(d) { return xScale(d[0]); }).y(function(d) { return yScale(d[1]); }).curve(d3.curveCatmullRomClosed);
  var straight = d3.line().x(function(d) { return xScale(d[0]); }).y(function(d) { return yScale(d[1]); });

  // streamlines
  g.selectAll(".loop").data(p.closed).enter().append("path")
    .attr("class", "loop")
    .attr("d", function(d) { return closed(toPoints(d)); })
    .attr("fill", "none")
    .attr("stroke", function(d) { return speedColor(d[0]); })
    .attr("stroke-opacity", p.lineAlpha)
    .attr("stroke-width", 0.85);

  g.selectAll(".stream").data(p.lines).enter().append("path")
    .attr("class", "stream")
    .attr("d", function(d) { return open(toPoints(d)); })
    .attr("fill", "none")
    .attr("stroke", function(d) { return speedColor(d[0]); })
    .attr("stroke-opacity", p.lineAlpha)
    .attr("stroke-width", 0.85);

  // clear area round the obstacles, then the obstacles
  g.selectAll(".halo").data(p.obstacles).enter().append("rect")
    .attr("class", "halo")
    .attr("x", function(d) { return xScale(d[0] - 0.6); })
    .attr("y", function(d) { return yScale(d[3] + 0.6); })
    .attr("width", function(d) { return xScale(d[2] + 0.6) - xScale(d[0] - 0.6); })
    .attr("height", function(d) { return yScale(d[1] - 0.6) - yScale(d[3] + 0.6); })
    .attr("rx", 2)
    .attr("fill", "#fff")
    .attr("stroke", "#c9d8f6")
    .attr("stroke-width", 0.7);

  g.selectAll(".obstacle").data(p.obstacles).enter().append("rect")
    .attr("class", "obstacle")
    .attr("x", function(d) { return xScale(d[0]); })
    .attr("y", function(d) { return yScale(d[3]); })
    .attr("width", function(d) { return xScale(d[2]) - xScale(d[0]); })
    .attr("height", function(d) { return yScale(d[1]) - yScale(d[3]); })
    .attr("fill", "#808080");

  // arrowheads
  g.selectAll(".head").data(p.arrows).enter().append("path")
    .attr("class", "head")
    .attr("d", "M4.5,0L-3.5,3.5L-3.5,-3.5Z")
    .attr("transform", function(d) {
      var angle = d.length > 3 ? d[3] : flowAngle;
      return "translate(" + [xScale(d[0]), yScale(d[1])] + ") rotate(" + (-angle) + ")";
    })
    .attr("fill", function(d) { return speedColor(d[2]); })
    .attr("fill-opacity", p.headAlpha);

  // paths
  g.append("path").datum(p.blue)
    .attr("d", straight).attr("fill", "none")
    .attr("stroke", "#0000ff").attr("stroke-width", 2.6).attr("stroke-linejoin", "round");
  g.append("path").datum(p.red)
    .attr("d", straight).attr("fill", "none")
    .attr("stroke", "#ff0000").attr("stroke-width", 2.6).attr("stroke-linejoin", "round");

  // frame and axes
  svg.append("rect")
    .attr("x", p.x0).attr("y", p.top)
    .attr("width", p.right - p.x0).attr("height", p.y0 - p.top)
    .attr("fill", "none").attr("stroke", p.edge).attr("stroke-width", 1.2);

  var xAxe = d3.axisBottom(xScale).tickValues(axisTicks).tickSize(5).tickPadding(4);
  var xg = svg.append("g").attr("transform", "translate(" + [0, p.y0] + ")").call(xAxe);
  var yAxe = d3.axisLeft(yScale).tickValues(axisTicks).tickSize(5).tickPadding(4);
  var yg = svg.append("g").attr("transform", "translate(" + [p.x0, 0] + ")").call(yAxe);
  [xg, yg].forEach(function(a) {
    a.select(".domain").remove();
    a.selectAll("text").style("font-size", "14px").style("font-family", "DejaVu Sans");
    a.selectAll("line").attr("stroke", p.edge);
  });

  // legend
  var legX = p.x0 + 7, legY = p.top + 7.5;
  var legend = svg.append("g").attr("transform", "translate(" + [legX, legY] + ")");
  legend.append("rect")
    .attr("width", 180).attr("height", 45.5).attr("rx", 3)
    .attr("fill", "#fff").attr("fill-opacity", 0.8)
    .attr("stroke", "#d0d0d0").attr("stroke-width", 1);
  [["A* Path", "#0000ff", 11.5], ["Enhanced A* Path", "#ff0000", 32.5]].forEach(function(row) {
    legend.append("line")
      .attr("x1", 5.5).attr("x2", 36).attr("y1", row[2]).attr("y2", row[2])
      .attr("stroke", row[1]).attr("stroke-width", 2.6);
    legend.append("text")
      .attr("x", 46.5).attr("y", row[2] + 5)
      .style("font-size", "14px")
      .text(row[0]);
  });

  // colour bar
  var barScale = d3.scaleLinear().domain([0, p.barMax]).range([p.y0, p.top]);
  svg.append("rect")
    .attr("x", p.barX).attr("y", p.top)
    .attr("width", p.barW).attr("height", p.y0 - p.top)
    .attr("fill", "url(#coolwarmBar)")
    .attr("stroke", p.edge).attr("stroke-width", 1.2);
  var barAxe = d3.axisRight(barScale).tickValues(p.barTicks).tickFormat(p.fmt).tickSize(5).tickPadding(5);
  var bg = svg.append("g").attr("transform", "translate(" + [p.barX + p.barW, 0] + ")").call(barAxe);
  bg.select(".domain").remove();
  bg.selectAll("text").style("font-size", "14px").style("font-family", "DejaVu Sans");
  bg.selectAll("line").attr("stroke", p.edge);

  // colour bar title (in panel c the next figure covers most of it)
  var label = svg.append("text")
    .attr("transform", "translate(" + [p.labelX, p.labelY] + ") rotate(-90)")
    .attr("text-anchor", "middle")
    .attr("dy", "0.35em")
    .style("font-size", "13.9px")
    .text("Current Speed(m/s)");
  if (p.cutLabel) {
    defs.append("clipPath").attr("id", "cut-label")
      .append("rect").attr("x", 490).attr("y", 610).attr("width", 13).attr("height", 150);
    svg.append("g").attr("clip-path", "url(#cut-label)").node().appendChild(label.node());
  }

  // caption
  var cap = svg.append("text")
    .attr("x", p.capX).attr("y", p.capY)
    .attr("text-anchor", "middle")
    .style("font-family", "Liberation Serif")
    .style("font-size", "22px");
  cap.append("tspan").text("(");
  cap.append("tspan").style("font-weight", "bold").text(p.id);
  cap.append("tspan").text(")");
});
</script>
</body>
</html>
